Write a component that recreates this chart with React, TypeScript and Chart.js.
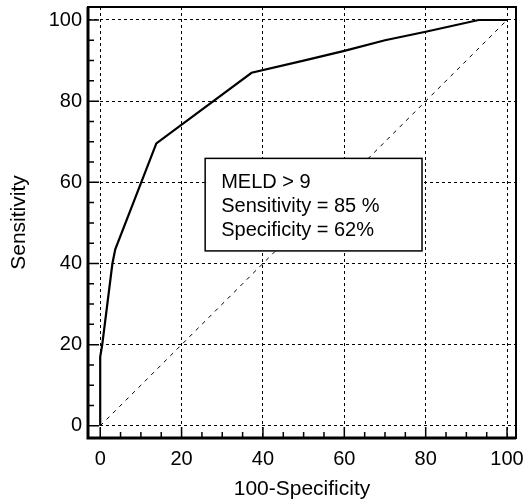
import React, { useEffect, useRef } from "react";
import { Chart, registerables } from "chart.js";

Chart.register(...registerables);

const rocX = [0, 0, 0.5, 3, 3.7, 13.8, 37.2, 50, 60, 70, 80, 93, 100];
const rocY = [0, 17, 20, 40, 43.5, 69.6, 87, 90, 92.4, 95, 97.1, 100, 100];
const diagX = [0, 100];
const diagY = [0, 100];
const majorTicks = [0, 20, 40, 60, 80, 100];
const minorTicks = [5, 10, 15, 25, 30, 35, 45, 50, 55, 65, 70, 75, 85, 90, 95];
const boxLines = ["MELD > 9", "Sensitivity = 85 %", "Specificity = 62%"];
const boxCorners = { x1: 25.8, x2: 79.1, y1: 65.9, y2: 43.1 };

const FONT = "Liberation Sans, Arial, Helvetica, sans-serif";

const framePlugin = {
  id: "framePlugin",
  afterDatasetsDraw(chart: any) {
    const { ctx, chartArea, scales } = chart;
    const xs = scales.x;
    const ys = scales.y;
    ctx.save();
    ctx.strokeStyle = "#000";
    ctx.setLineDash([]);
    ctx.lineWidth = 1.5;
    ctx.beginPath();
    for (const v of minorTicks) {
      const px = xs.getPixelForValue(v);
      ctx.moveTo(px, chartArea.bottom);
      ctx.lineTo(px, chartArea.bottom - 6);
      const py = ys.getPixelForValue(v);
      ctx.moveTo(chartArea.left, py);
      ctx.lineTo(chartArea.left + 6, py);
    }
    for (const v of majorTicks) {
      const px = xs.getPixelForValue(v);
      ctx.moveTo(px, chartArea.bottom);
      ctx.lineTo(px, chartArea.bottom - 11);
      const py = ys.getPixelForValue(v);
      ctx.moveTo(chartArea.left, py);
      ctx.lineTo(chartArea.left + 11, py);
    }
    ctx.stroke();
    ctx.lineWidth = 2;
    ctx.strokeRect(
      chartArea.left,
      chartArea.top,
      chartArea.right - chartArea.left,
      chartArea.bottom - chartArea.top
    );
    ctx.lineWidth = 3;
    ctx.beginPath();
    ctx.moveTo(chartArea.left, chartArea.top);
    ctx.lineTo(chartArea.left, chartArea.bottom);
    ctx.lineTo(chartArea.right, chartArea.bottom);
    ctx.stroke();
    const bx1 = xs.getPixelForValue(boxCorners.x1);
    const bx2 = xs.getPixelForValue(boxCorners.x2);
    const by1 = ys.getPixelForValue(boxCorners.y1);
    const by2 = ys.getPixelForValue(boxCorners.y2);
    ctx.fillStyle = "#fff";
    ctx.fillRect(bx1, by1, bx2 - bx1, by2 - by1);
    ctx.lineWidth = 1.5;
    ctx.strokeRect(bx1, by1, bx2 - bx1, by2 - by1);
    ctx.fillStyle = "#000";
    ctx.font = `20px ${FONT}`;
    ctx.textAlign = "left";
    ctx.textBaseline = "alphabetic";
    boxLines.forEach((t, i) => {
      ctx.fillText(t, bx1 + 16, by1 + 30 + i * 24);
    });
    ctx.restore();
  },
};

export default function App() {
  const ref = useRef<HTMLCanvasElement>(null);
  useEffect(() => {
    document.body.style.margin = "0";
    const gridColor = (c: any) =>
      majorTicks.includes(c.tick?.value) ? "#000" : "rgba(0,0,0,0)";
    const allTicks = [...majorTicks, ...minorTicks].sort((a, b) => a - b);
    const chart = new Chart(ref.current!, {
      type: "scatter",
      data: {
        datasets: [
          {
            data: diagX.map((x, i) => ({ x, y: diagY[i] })),
            showLine: true,
            borderColor: "#000",
            borderWidth: 1,
            borderDash: [4, 5],
            pointRadius: 0,
          },
          {
            data: rocX.map((x, i) => ({ x, y: rocY[i] })),
            showLine: true,
            borderColor: "#000",
            borderWidth: 2.2,
            pointRadius: 0,
            tension: 0,
          },
        ],
      },
      options: {
        animation: false,
        responsive: false,
        layout: { padding: { top: 7, right: 7, left: 0, bottom: 0 } },
        plugins: { legend: { display: false }, tooltip: { enabled: false } },
        scales: {
          x: {
            type: "linear",
            min: -3,
            max: 102.2,
            afterBuildTicks: (s: any) => {
              s.ticks = allTicks.map((v) => ({ value: v }));
            },
            afterFit: (s: any) => {
              s.height = 64;
              s.paddingLeft = 0;
              s.paddingRight = 0;
            },
            grid: {
              color: gridColor,
              lineWidth: 1,
              drawTicks: false,
            },
            border: { display: false, dash: [3, 3] },
            ticks: {
              color: "#000",
              padding: 9,
              font: { family: FONT, size: 20 },
              callback: (v: any) => (majorTicks.includes(Number(v)) ? String(v) : ""),
              maxRotation: 0,
              autoSkip: false,
            },
            title: {
              display: true,
              text: "100-Specificity",
              color: "#000",
              font: { family: FONT, size: 21 },
              padding: { top: 0, bottom: 0 },
            },
          },
          y: {
            type: "linear",
            min: -3,
            max: 103.2,
            afterBuildTicks: (s: any) => {
              s.ticks = allTicks.map((v) => ({ value: v }));
            },
            afterFit: (s: any) => {
              s.width = 88;
              s.paddingTop = 0;
              s.paddingBottom = 0;
            },
            grid: {
              color: gridColor,
              lineWidth: 1,
              drawTicks: false,
            },
            border: { display: false, dash: [3, 3] },
            ticks: {
              color: "#000",
              padding: 6,
              font: { family: FONT, size: 20 },
              callback: (v: any) => (majorTicks.includes(Number(v)) ? String(v) : ""),
              autoSkip: false,
            },
            title: {
              display: true,
              text: "Sensitivity",
              color: "#000",
              font: { family: FONT, size: 21 },
              padding: { top: 7, bottom: 0 },
            },
          },
        },
      },
      plugins: [framePlugin],
    });
    return () => chart.destroy();
  }, []);
  return <canvas ref={ref} width={523} height={502} style={{ display: "block" }} />;
}
